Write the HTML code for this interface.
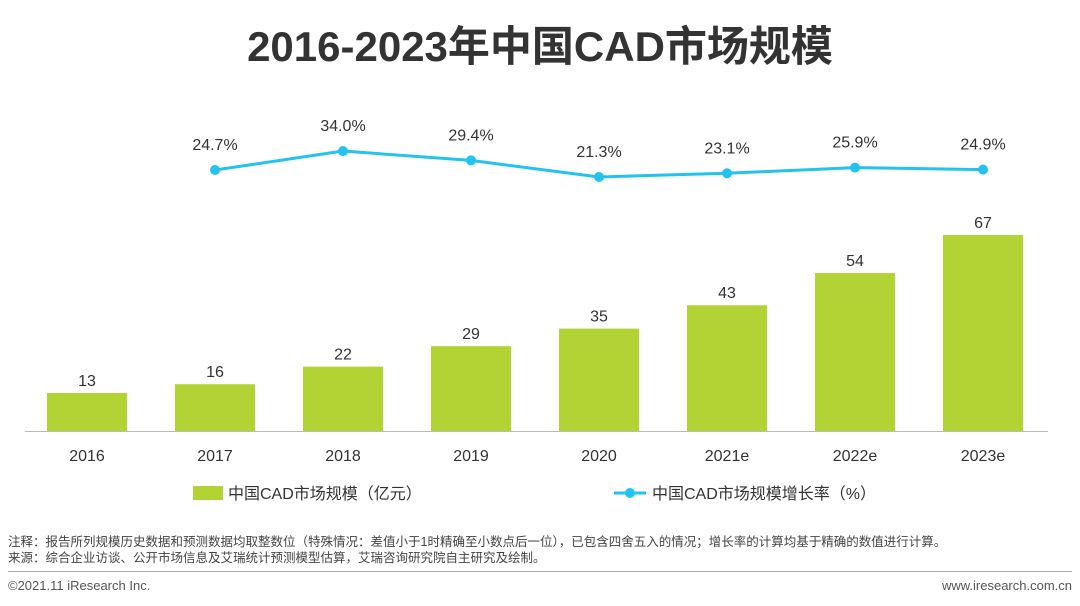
<!DOCTYPE html>
<html><head><meta charset="utf-8"><style>
body{margin:0;width:1080px;height:606px;background:#fff;font-family:"Liberation Sans","Noto Sans CJK SC",sans-serif;overflow:hidden;position:relative}
.t{position:absolute;white-space:nowrap}
</style></head><body>
<div class="t" style="left:0;width:1080px;text-align:center;top:13px;font-size:42px;font-weight:bold;color:#333">2016-2023年中国CAD市场规模</div>
<svg id="chart" width="1080" height="520" style="position:absolute;left:0;top:0"></svg>
<div class="t" style="left:8px;top:531px;font-size:12.5px;color:#444">注释：报告所列规模历史数据和预测数据均取整数位（特殊情况：差值小于1时精确至小数点后一位），已包含四舍五入的情况；增长率的计算均基于精确的数值进行计算。</div>
<div class="t" style="left:8px;top:547px;font-size:12.5px;color:#444">来源：综合企业访谈、公开市场信息及艾瑞统计预测模型估算，艾瑞咨询研究院自主研究及绘制。</div>
<div style="position:absolute;left:8px;width:1064px;top:571px;height:1px;background:#aaa"></div>
<div class="t" style="left:8px;top:578px;font-size:13px;color:#555">©2021.11 iResearch Inc.</div>
<div class="t" style="right:8px;top:578px;font-size:13px;color:#555">www.iresearch.com.cn</div>
<script>
const categories=["2016","2017","2018","2019","2020","2021e","2022e","2023e"];
const sizeValues=[13,16,22,29,35,43,54,67];
const growthCats=["2017","2018","2019","2020","2021e","2022e","2023e"];
const growthValues=[24.7,34.0,29.4,21.3,23.1,25.9,24.9];
const svg=document.getElementById('chart');
const NS='http://www.w3.org/2000/svg';
function mk(tag,a){const e=document.createElementNS(NS,tag);for(const k in a)e.setAttribute(k,a[k]);svg.appendChild(e);return e;}
const base=431;
function xC(c){return 87+categories.indexOf(c)*128;}
function yBar(v){return base-v*2.925;}
function yLine(v){return 220.4-v*2.04;}
categories.forEach((c,i)=>{
 const v=sizeValues[i];
 const r=mk('rect',{x:xC(c)-40,y:yBar(v),width:80,height:base-yBar(v),fill:'#b3d334'});
 
 
 const t=mk('text',{x:xC(c),y:yBar(v)-7,'text-anchor':'middle','font-size':16,fill:'#333'});t.textContent=v;
 
 
 const xl=mk('text',{x:xC(c),y:461,'text-anchor':'middle','font-size':16,fill:'#333'});xl.textContent=c;
 
 
});
const ax=mk('line',{x1:25,x2:1048,y1:base+0.5,y2:base+0.5,stroke:'#bbb','stroke-width':1});


const pts=growthCats.map((c,i)=>xC(c)+','+yLine(growthValues[i])).join(' ');
const pl=mk('polyline',{points:pts,fill:'none',stroke:'#22c3ee','stroke-width':3});


growthCats.forEach((c,i)=>{
 const v=growthValues[i];
 const d=mk('circle',{cx:xC(c),cy:yLine(v),r:5,fill:'#22c3ee'});
 
 
 const t=mk('text',{x:xC(c),y:yLine(v)-20,'text-anchor':'middle','font-size':16,fill:'#333'});t.textContent=v.toFixed(1)+'%';
 
 
});
const lg1=mk('rect',{x:193,y:486,width:30,height:14,fill:'#b3d334'});


const lt1=mk('text',{x:228,y:499,'font-size':16,fill:'#333'});lt1.textContent='中国CAD市场规模（亿元）';


const lg2=mk('line',{x1:614,x2:646,y1:493,y2:493,stroke:'#22c3ee','stroke-width':3});


const lg2d=mk('circle',{cx:630,cy:493,r:5,fill:'#22c3ee'});


const lt2=mk('text',{x:652,y:499,'font-size':16,fill:'#333'});lt2.textContent='中国CAD市场规模增长率（%）';


</script>
</body></html>
